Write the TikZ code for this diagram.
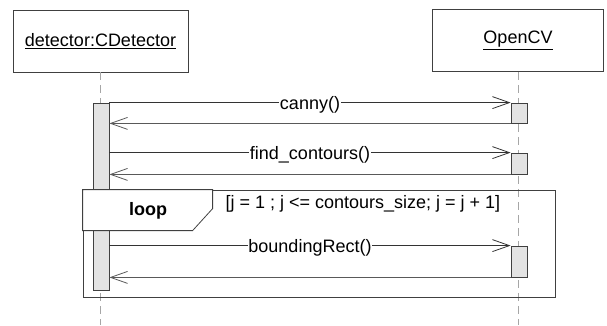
\documentclass[tikz,border=0pt]{standalone}
\usepackage{fontspec}
\setmainfont{Liberation Sans}
\usetikzlibrary{arrows.meta}

\colorlet{colorBox}{black!75}
\colorlet{colorCall}{black!80}
\colorlet{colorRet}{black!65}
\colorlet{colorLife}{black!35}
\colorlet{colorAct}{black!11}
\tikzset{
   every path/.style={>={Straight Barb[length=17pt,width=12pt]}},
   every node/.style={font=\fontsize{18}{21}\selectfont},
   obj/.style={draw=colorBox,line width=0.8pt,minimum height=62pt,inner sep=0pt},
   life/.style={color=colorLife,line width=0.8pt,dash pattern=on 8pt off 5pt},
   actbox/.style={draw=colorBox,fill=colorAct,line width=0.8pt,minimum width=16pt,inner sep=0pt},
   call/.style={->,color=colorCall,line width=0.8pt},
   ret/.style={->,color=colorRet,line width=0.8pt},
   msg/.style={fill=white,inner sep=0.5pt,text=black,yshift=-2pt},
   frame/.style={draw=colorBox,line width=0.8pt},
 }
\newcommand{\dcall}[3]{\draw[call] (#1) -- node[msg] {#3} (#2)}
\newcommand{\dret}[2]{\draw[ret] (#1) -- (#2)}

\begin{document}
\begin{tikzpicture}[x=1pt,y=-1pt]
      \useasboundingbox (0,0) rectangle (607,325);
      \coordinate (Bottom) at (0,325);

      \node[obj,minimum width=175pt] (Det) at (100.5,41) {\underline{detector:CDetector}};
      \node[obj,minimum width=171pt] (Cv) at (518,40.5) {\underline{OpenCV}};
      \draw[life] (Det.south) -- (Det.south |- Bottom);
      \draw[life] (Cv.south) -- (Cv.south |- Bottom);

      \node[actbox,minimum height=187pt] (DetAct) at (101,196.5) {};
      \node[actbox,minimum height=20pt] (CvAct1) at (519,113) {};
      \node[actbox,minimum height=21pt] (CvAct2) at (519,163.5) {};
      \node[actbox,minimum height=31pt] (CvAct3) at (519,261.5) {};

      \dcall{DetAct.east |- CvAct1.north}{CvAct1.north west}{canny()};
      \dret{CvAct1.south west}{DetAct.east |- CvAct1.south};
      \dcall{DetAct.east |- CvAct2.north}{CvAct2.north west}{find\_contours()};
      \dret{CvAct2.south west}{DetAct.east |- CvAct2.south};

      % loop fragment
      \node[frame,minimum width=472pt,minimum height=107pt,inner sep=0pt] (Loop) at (319,243.5) {};
      \draw[frame,fill=white] (Loop.north west) -- ++(130,0) -- ++(0,19) -- ++(-20,22) -- ++(-110,0) -- cycle;
      \node (LoopLbl) at (148,211) {\textbf{loop}};
      \node[anchor=west] (Guard) at (222,204) {[j = 1 ; j <= contours\_size; j = j + 1]};

      \dcall{DetAct.east |- CvAct3.north}{CvAct3.north west}{boundingRect()};
      \dret{CvAct3.south west}{DetAct.east |- CvAct3.south};
    \end{tikzpicture}
\end{document}
